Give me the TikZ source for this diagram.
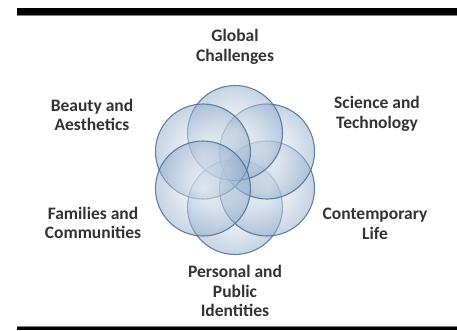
\documentclass[tikz,border=0pt]{standalone}
\usepackage{fontspec}
\setmainfont{Carlito}
\usetikzlibrary{calc}
\definecolor{ring}{HTML}{4C6F96}
\definecolor{bluefill}{HTML}{8EA9CA}
\definecolor{txt}{HTML}{333333}
\begin{document}
\begin{tikzpicture}[x=1pt,y=-1pt,
  petal/.style={circle, minimum size=95pt, inner sep=0pt, draw=ring, line width=1.1pt,
    inner color=white, outer color=bluefill, fill opacity=0.5, draw opacity=0.85},
  lbl/.style={align=center, text=txt, inner sep=0pt,
    font=\bfseries\fontsize{17.5}{19.5}\selectfont}]
\useasboundingbox (0,0) rectangle (457,330);
\fill[black] (17,8) rectangle (457,14.8);
\fill[gray] (17,14.8) rectangle (457,15.8);
\fill[gray] (17,325.8) rectangle (457,327);
\fill[black] (17,327) rectangle (457,330);
\coordinate (c) at (235,170);
\foreach \a/\n in {90/p1,30/p2,-30/p3,-90/p4,-150/p5,150/p6}
  \node[petal] (\n) at ($(c)+(\a:37)$) {};
\node[lbl] (global) at (235,47) {Global\\Challenges};
\node[lbl] (beauty) at (92,115) {Beauty and\\Aesthetics};
\node[lbl] (science) at (377,114) {Science and\\Technology};
\node[lbl] (families) at (93,223) {Families and\\Communities};
\node[lbl] (contemp) at (375,224) {Contemporary\\Life};
\node[lbl] (personal) at (235,291) {Personal and\\Public\\Identities};
\end{tikzpicture}
\end{document}
